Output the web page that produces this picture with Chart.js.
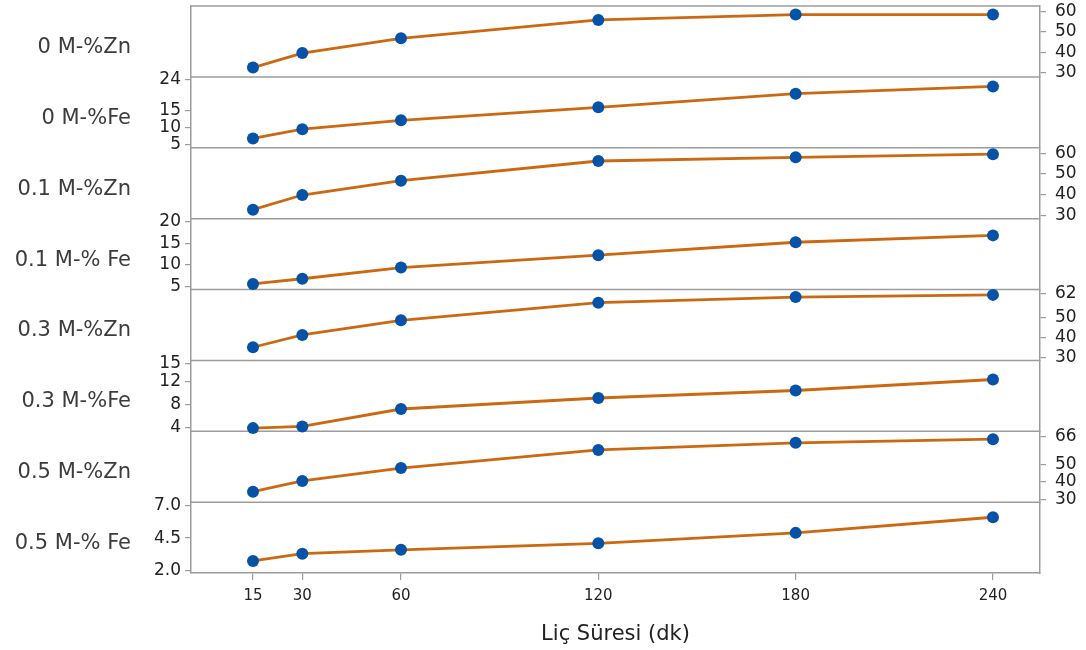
<!DOCTYPE html>
<html lang="tr">
<head>
<meta charset="UTF-8">
<title>Liç Süresi</title>
<script src="https://cdn.jsdelivr.net/npm/chart.js"></script>
<style>
  html, body { margin: 0; padding: 0; background: #fff; }
</style>
</head>
<body>
<canvas id="chart" width="1086" height="650"></canvas>
<script>
// leaching time (min)
const times = [15, 30, 60, 120, 180, 240];
const panelLabels = ['0 M-%Zn', '0 M-%Fe', '0.1 M-%Zn', '0.1 M-% Fe',
                     '0.3 M-%Zn', '0.3 M-%Fe', '0.5 M-%Zn', '0.5 M-% Fe'];

// values, one array per panel
const zn0  = [32.6, 39.7, 46.9, 55.9, 58.5, 58.5];
const fe0  = [6.9, 9.6, 12.2, 16.0, 20.0, 22.1];
const zn01 = [32.7, 39.8, 46.7, 56.2, 58.0, 59.5];
const fe01 = [5.6, 6.8, 9.4, 12.3, 15.3, 16.9];
const zn03 = [35.0, 41.2, 48.5, 57.4, 60.2, 61.3];
const fe03 = [3.9, 4.2, 7.2, 9.1, 10.4, 12.3];
const zn05 = [34.3, 40.5, 47.9, 58.3, 62.4, 64.5];
const fe05 = [2.75, 3.3, 3.6, 4.1, 4.9, 6.1];
const panelData = [zn0, fe0, zn01, fe01, zn03, fe03, zn05, fe05];

// tick labels per panel
const yTicks = [[30, 40, 50, 60], [5, 10, 15, 24], [30, 40, 50, 60], [5, 10, 15, 20],
                [30, 40, 50, 62], [4, 8, 12, 15], [30, 40, 50, 66], [2, 4.5, 7]];
const yMin = [28.05, 4.18, 28.4, 4.3, 28.4, 3.36, 28.3, 1.82];
const yMax = [62.7, 24.9, 62.6, 20.8, 64.0, 15.6, 69.05, 7.26];
const xTicks = [15, 30, 60, 120, 180, 240];

const gray = '#9c9c9c';
const lineColor = '#cc6810';
const dotColor = '#0652a6';

const scales = {
    x: {
        type: 'linear',
        min: -3.85,
        max: 254.3,
        afterBuildTicks: s => { s.ticks = xTicks.map(v => ({ value: v })); },
        afterFit: s => { s.height = 77; s.paddingLeft = 0; s.paddingRight = 0; },
        ticks: { font: { family: 'DejaVu Sans', size: 15 }, color: '#222', padding: 7,
                 autoSkip: false, maxRotation: 0, callback: v => String(v) },
        grid: { drawOnChartArea: false, tickLength: 7, color: gray, lineWidth: 1.2 },
        border: { color: gray, width: 1.5 },
        title: { display: true, text: 'Liç Süresi (dk)', color: '#222',
                 font: { family: 'DejaVu Sans', size: 21 }, padding: { top: 4, bottom: 3 } }
    }
};

panelData.forEach((d, i) => {
    const isFe = i % 2 === 1;
    const fmt = i === 7 ? (v => v.toFixed(1)) : (v => String(v));
    const base = {
        type: 'linear',
        min: yMin[i],
        max: yMax[i],
        stackWeight: 1,
        border: { color: gray, width: 1.5 },
        afterBuildTicks: s => { s.ticks = yTicks[i].map(v => ({ value: v })); }
    };
    const shown = {
        ticks: { display: true, font: { family: 'DejaVu Sans', size: 17 }, color: '#222',
                 padding: 4, autoSkip: false, callback: fmt },
        grid: { drawOnChartArea: false, drawTicks: true, tickLength: 6, color: gray, lineWidth: 1.2 }
    };
    const hidden = {
        ticks: { display: false },
        grid: { drawOnChartArea: false, drawTicks: false, color: gray }
    };
    scales['yL' + i] = Object.assign({}, base, isFe ? shown : hidden, {
        position: 'left', stack: 'L', weight: 20 - i,
        afterFit: s => { s.width = 191; s.paddingTop = 0; s.paddingBottom = 0; }
    });
    scales['yR' + i] = Object.assign({}, base, isFe ? hidden : shown, {
        position: 'right', stack: 'R', weight: i + 1,
        afterFit: s => { s.width = 46; s.paddingTop = 0; s.paddingBottom = 0; }
    });
    if (!isFe) scales['yR' + i].ticks = Object.assign({}, shown.ticks, { padding: 9 });
});

const datasets = panelData.map((d, i) => ({
    label: panelLabels[i],
    data: d.map((v, k) => ({ x: times[k], y: v })),
    yAxisID: (i % 2 === 1 ? 'yL' : 'yR') + i,
    borderColor: lineColor,
    borderWidth: 2.8,
    pointRadius: 6,
    pointBackgroundColor: dotColor,
    pointBorderWidth: 0,
    tension: 0,
    clip: false
}));

const panelFrames = {
    id: 'panelFrames',
    beforeDatasetsDraw(chart) {
        const { ctx, chartArea } = chart;
        ctx.save();
        ctx.strokeStyle = gray;
        ctx.lineWidth = 1.5;
        ctx.fillStyle = '#3c3c3c';
        ctx.font = '21px "DejaVu Sans"';
        ctx.textAlign = 'right';
        ctx.textBaseline = 'middle';
        for (let i = 0; i < panelLabels.length; i++) {
            const s = chart.scales['yL' + i];
            ctx.beginPath();
            ctx.moveTo(chartArea.left, s.top);
            ctx.lineTo(chartArea.right, s.top);
            ctx.stroke();
            ctx.fillText(panelLabels[i], chartArea.left - 60, (s.top + s.bottom) / 2 + 6);
        }
        ctx.restore();
    }
};

new Chart(document.getElementById('chart'), {
    type: 'line',
    data: { datasets: datasets },
    options: {
        responsive: false,
        animation: false,
        layout: { padding: { top: 4 } },
        plugins: { legend: { display: false }, tooltip: { enabled: false } },
        scales: scales
    },
    plugins: [panelFrames]
});
</script>
</body>
</html>
